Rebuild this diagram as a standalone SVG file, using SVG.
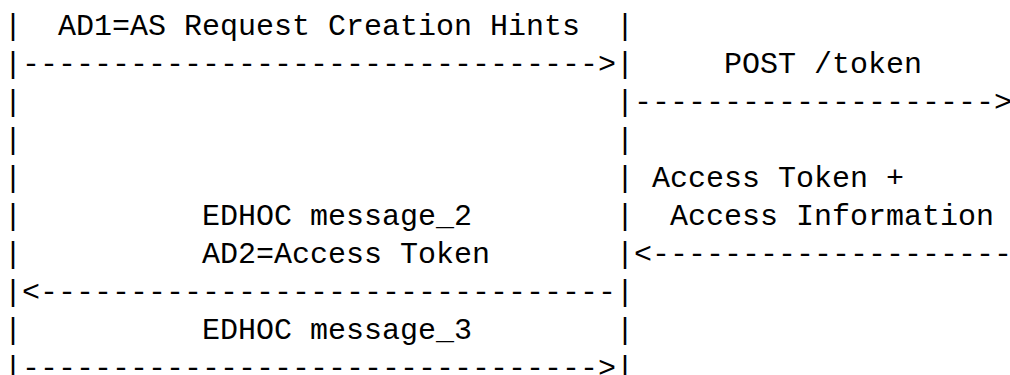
<svg xmlns="http://www.w3.org/2000/svg" width="1010" height="375" viewBox="0 0 1010 375">
<style>
text{font-family:"Liberation Mono","DejaVu Sans Mono",monospace;font-size:30px;fill:#000;}
</style>
<rect width="1010" height="375" fill="#fff"/>
<g id="lifeline-client">
<text x="4" y="35">|</text>
<text x="4" y="73">|</text>
<text x="4" y="111">|</text>
<text x="4" y="149">|</text>
<text x="4" y="187">|</text>
<text x="4" y="225">|</text>
<text x="4" y="263">|</text>
<text x="4" y="301">|</text>
<text x="4" y="339">|</text>
<text x="4" y="377">|</text>
</g>
<g id="lifeline-rs">
<text x="616" y="35">|</text>
<text x="616" y="73">|</text>
<text x="616" y="111">|</text>
<text x="616" y="149">|</text>
<text x="616" y="187">|</text>
<text x="616" y="225">|</text>
<text x="616" y="263">|</text>
<text x="616" y="301">|</text>
<text x="616" y="339">|</text>
<text x="616" y="377">|</text>
</g>
<g id="connectors">
<text x="22" y="73">--------------------------------&gt;</text>
<text x="634" y="111">--------------------&gt;</text>
<text x="634" y="263">&lt;--------------------</text>
<text x="22" y="301">&lt;--------------------------------</text>
<text x="22" y="377">--------------------------------&gt;</text>
</g>
<g id="label-msg1"><text x="58" y="35">AD1=AS Request Creation Hints</text></g>
<g id="label-post"><text x="724" y="73">POST /token</text></g>
<g id="label-access"><text x="652" y="187">Access Token +</text><text x="670" y="225">Access Information</text></g>
<g id="label-msg2"><text x="202" y="225">EDHOC message_2</text><text x="202" y="263">AD2=Access Token</text></g>
<g id="label-msg3"><text x="202" y="339">EDHOC message_3</text></g>
</svg>
